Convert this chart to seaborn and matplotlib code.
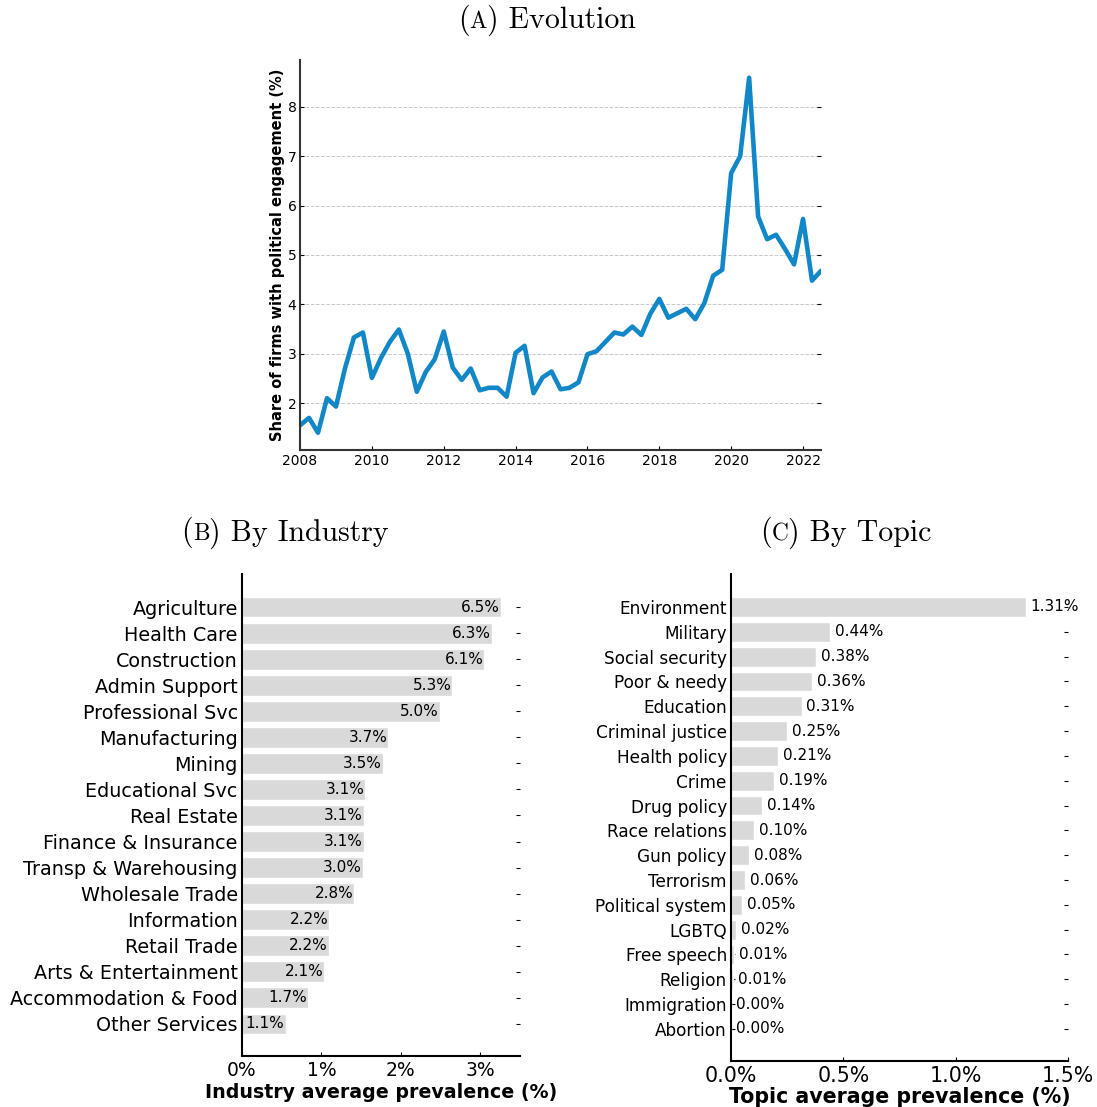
import numpy as np
import pandas as pd
import matplotlib
matplotlib.use("Agg")
import matplotlib.pyplot as plt
import seaborn as sns
from matplotlib.offsetbox import TextArea, HPacker, AnchoredOffsetbox
from matplotlib.ticker import FuncFormatter

# (A) quarterly share of firms with political engagement, 2008Q1 - 2022Q3
years = list(range(2008, 2023))
share = [1.55, 1.70, 1.40, 2.10,
         1.93, 2.70, 3.33, 3.43,
         2.51, 2.91, 3.24, 3.49,
         3.00, 2.23, 2.63, 2.89,
         3.45, 2.72, 2.47, 2.70,
         2.26, 2.31, 2.31, 2.13,
         3.02, 3.16, 2.20, 2.52,
         2.64, 2.28, 2.31, 2.42,
         2.99, 3.05, 3.24, 3.43,
         3.39, 3.55, 3.38, 3.81,
         4.11, 3.73, 3.82, 3.91,
         3.70, 4.02, 4.58, 4.70,
         6.66, 7.00, 8.59, 5.78,
         5.32, 5.41, 5.12, 4.81,
         5.73, 4.48, 4.68]

# (B) industry average prevalence (%)
industries = ["Agriculture", "Health Care", "Construction", "Admin Support",
              "Professional Svc", "Manufacturing", "Mining", "Educational Svc",
              "Real Estate", "Finance & Insurance", "Transp & Warehousing",
              "Wholesale Trade", "Information", "Retail Trade",
              "Arts & Entertainment", "Accommodation & Food", "Other Services"]
industry_prev = [6.52, 6.29, 6.10, 5.30, 4.98, 3.68, 3.54, 3.10, 3.07, 3.07,
                 3.04, 2.82, 2.19, 2.18, 2.07, 1.66, 1.11]

# (C) topic average prevalence (%)
topics = ["Environment", "Military", "Social security", "Poor & needy",
          "Education", "Criminal justice", "Health policy", "Crime",
          "Drug policy", "Race relations", "Gun policy", "Terrorism",
          "Political system", "LGBTQ", "Free speech", "Religion",
          "Immigration", "Abortion"]
topic_prev = [1.312, 0.442, 0.379, 0.362, 0.314, 0.250, 0.208, 0.191, 0.138,
              0.104, 0.080, 0.064, 0.048, 0.024, 0.012, 0.008, 0.002, 0.001]

sns.set_style("white")
plt.rcParams["font.family"] = ["DejaVu Sans"]
plt.rcParams.update({"text.color": "black", "axes.labelcolor": "black",
                     "xtick.color": "black", "ytick.color": "black"})

BAR = "#d9d9d9"
LINE = "#1187c8"


def panel_title(fig, x, y, letter, text, size=21.5):
    # small-caps panel letter, LaTeX look
    tp = dict(family="cmr10", size=size, color="black")
    parts = HPacker(children=[TextArea("(", textprops=tp),
                              TextArea(letter, textprops=dict(tp, size=size * 0.78)),
                              TextArea(") " + text, textprops=tp)],
                    align="baseline", pad=0, sep=0)
    box = AnchoredOffsetbox(loc="center", child=parts, pad=0, borderpad=0,
                            frameon=False, bbox_to_anchor=(x, y),
                            bbox_transform=fig.transFigure)
    fig.add_artist(box)


def style_bars(ax, xsize):
    ax.spines[["top", "right"]].set_visible(False)
    for s in ["left", "bottom"]:
        ax.spines[s].set_linewidth(1.5)
        ax.spines[s].set_color("black")
    ax.tick_params(axis="y", direction="in", left=True, right=True,
                   length=3, width=0.8, pad=3)
    ax.tick_params(axis="x", direction="in", bottom=True, length=3,
                   width=0.8, labelsize=xsize)
    ax.set_ylabel("")


fig = plt.figure(figsize=(10.97, 11.07), dpi=100)

# ---- (A) Evolution
ax1 = fig.add_axes([0.2735, 0.5935, 0.4749, 0.3523])
df = pd.DataFrame({"t": [y + q / 4 for y in years for q in range(4)][:len(share)],
                   "share": share})
sns.lineplot(data=df, x="t", y="share", color=LINE, lw=3.3, ax=ax1)
ax1.set_xlim(2008, 2022.5)
ax1.set_ylim(1.05, 8.95)
ax1.set_xticks(range(2008, 2023, 2))
ax1.set_yticks(range(2, 9))
ax1.yaxis.grid(True, ls="--", color="#c8c8c8", lw=0.7)
ax1.spines[["top", "right"]].set_visible(False)
for s in ["left", "bottom"]:
    ax1.spines[s].set_linewidth(1.5)
    ax1.spines[s].set_color("#333333")
ax1.tick_params(axis="both", direction="in", labelsize=10, length=3, width=0.8)
ax1.tick_params(axis="y", left=True, right=True, pad=2.5)
ax1.tick_params(axis="x", bottom=True, pad=3)
ax1.set_xlabel("")
ax1.set_ylabel("Share of firms with political engagement (%)",
               fontsize=10.5, fontweight="bold", labelpad=2)

# ---- (B) By Industry  (bars drawn at half scale, as in the source figure)
ax2 = fig.add_axes([0.2206, 0.0461, 0.2534, 0.4354])
half = [v / 2 for v in industry_prev]
sns.barplot(x=half, y=industries, orient="h", color=BAR, saturation=1,
            width=0.8, ax=ax2)
for i, (w, v) in enumerate(zip(half, industry_prev)):
    if w > 0.6:
        ax2.text(w - 0.01, i, f"{v:.1f}%", ha="right", va="center", fontsize=11)
    else:
        ax2.text(0.04, i, f"{v:.1f}%", ha="left", va="center", fontsize=11)
ax2.set_xlim(0, 3.5)
ax2.set_ylim(len(industries) - 1 + 1.23, -1.27)
ax2.set_xticks([0, 1, 2, 3])
ax2.xaxis.set_major_formatter(FuncFormatter(lambda v, p: f"{v:.0f}%"))
style_bars(ax2, 13.5)
ax2.tick_params(axis="y", labelsize=13.8)
ax2.set_xlabel("Industry average prevalence (%)", fontsize=13.7,
               fontweight="bold", labelpad=2)

# ---- (C) By Topic
ax3 = fig.add_axes([0.6664, 0.0416, 0.3072, 0.4399])
sns.barplot(x=topic_prev, y=topics, orient="h", color=BAR, saturation=1,
            width=0.8, ax=ax3)
for i, v in enumerate(topic_prev):
    ax3.annotate(f"{v:.2f}%", (v, i), xytext=(3.5, 0), textcoords="offset points",
                 ha="left", va="center", fontsize=11)
ax3.set_xlim(0, 1.5)
ax3.set_ylim(len(topics) - 1 + 1.29, -1.33)
ax3.set_xticks([0, 0.5, 1.0, 1.5])
ax3.xaxis.set_major_formatter(FuncFormatter(lambda v, p: f"{v:.1f}%"))
style_bars(ax3, 14.8)
ax3.tick_params(axis="y", labelsize=12.2)
ax3.set_xlabel("Topic average prevalence (%)", fontsize=14.8,
               fontweight="bold", labelpad=1)

panel_title(fig, 547 / 1097, 1 - 20 / 1107, "A", "Evolution")
panel_title(fig, 285 / 1097, 1 - 533 / 1107, "B", "By Industry")
panel_title(fig, 846 / 1097, 1 - 533 / 1107, "C", "By Topic")

fig.savefig("out.png", dpi=100)
